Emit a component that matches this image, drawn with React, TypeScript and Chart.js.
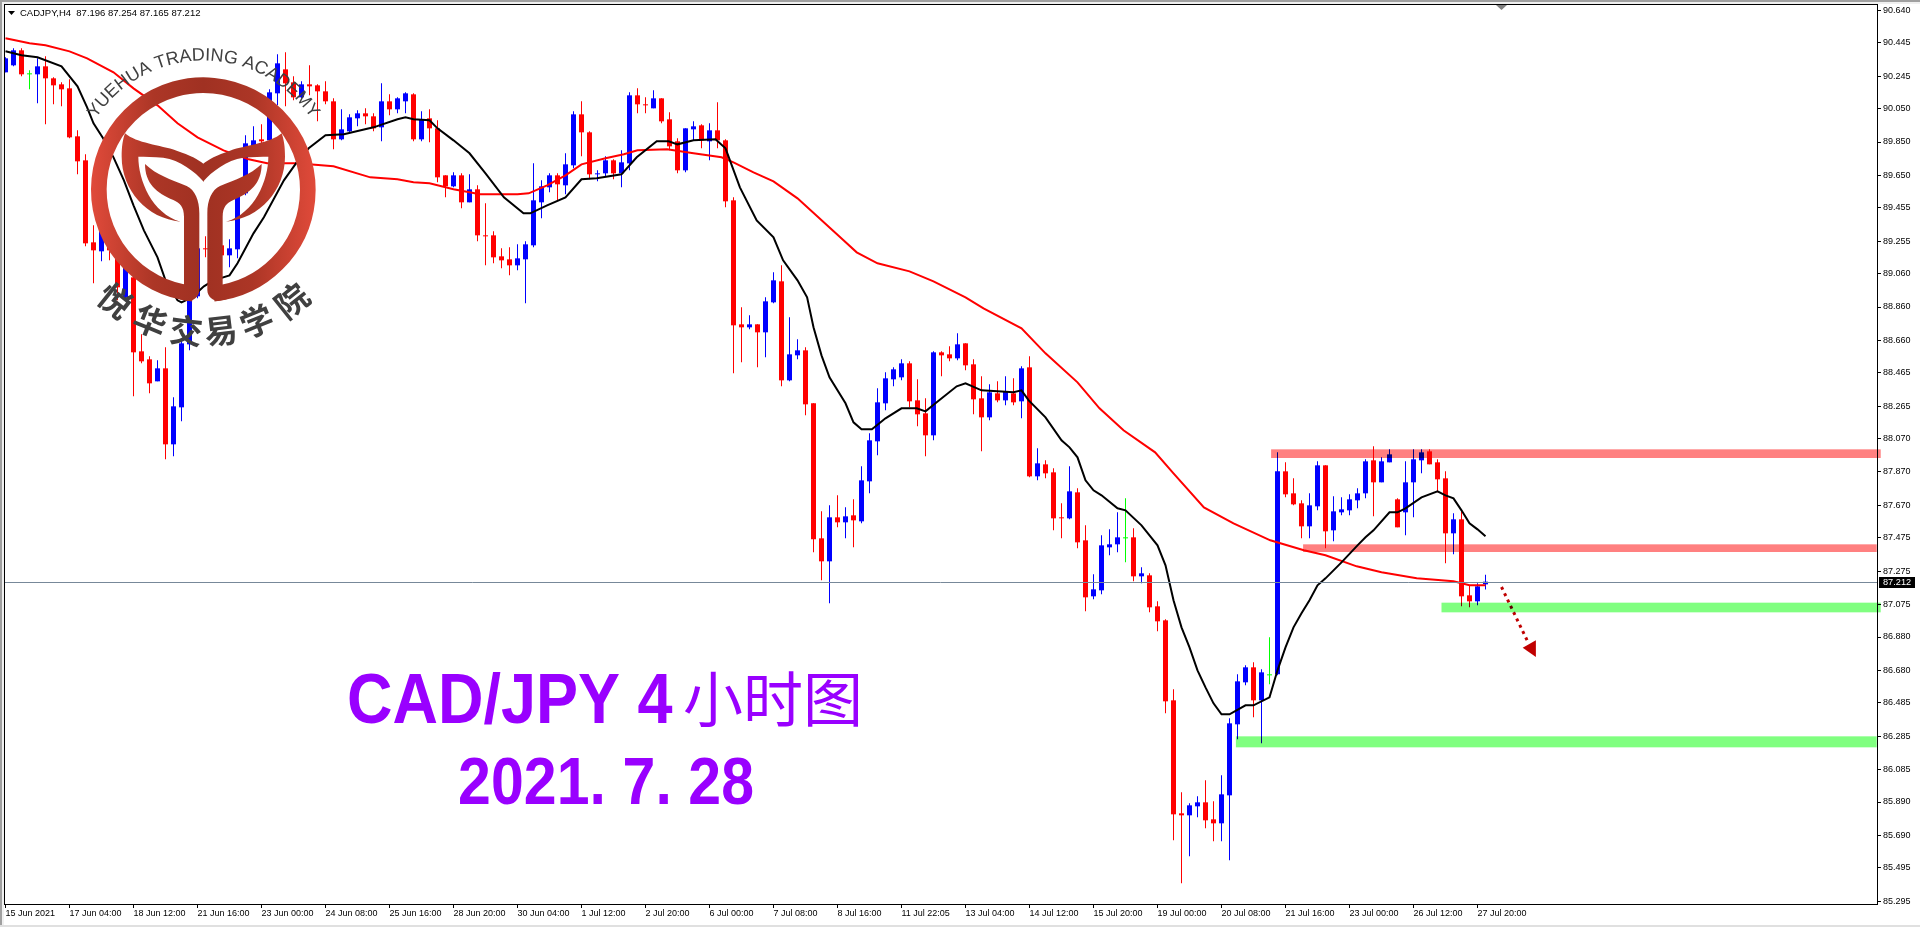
import React, { useEffect, useRef } from "react";
import Chart from "chart.js/auto";

const opens = [90.268,90.31,90.4,90.262,90.256,90.304,90.232,90.196,90.172,89.884,89.74,89.248,89.194,89.344,89.2,88.918,89.038,88.594,88.546,88.414,88.492,88.036,88.258,88.636,88.924,89.212,89.218,89.23,89.17,89.206,89.542,89.8,89.866,89.86,90.142,90.286,90.208,90.118,90.196,90.19,90.154,90.094,89.866,89.914,89.992,90.022,90.004,89.938,90.094,90.046,90.094,90.136,89.866,89.992,89.932,89.65,89.584,89.65,89.488,89.566,89.29,89.29,89.164,89.146,89.11,89.146,89.23,89.488,89.578,89.65,89.59,89.71,90.016,89.908,89.656,89.662,89.74,89.662,89.722,90.13,90.076,90.052,90.112,89.986,89.854,89.68,89.926,89.95,89.854,89.92,89.86,89.5,88.756,88.738,88.756,88.708,88.888,89.014,88.42,88.57,88.6,88.282,87.472,87.334,87.598,87.568,87.61,87.574,87.814,88.054,88.282,88.426,88.438,88.522,88.3,88.222,88.09,88.588,88.576,88.552,88.642,88.516,88.312,88.198,88.342,88.3,88.342,88.294,88.498,87.844,87.916,87.868,87.598,87.592,87.748,87.46,87.124,87.16,87.418,87.436,87.478,87.478,87.244,87.25,87.064,86.98,86.5,85.822,85.81,85.864,85.888,85.786,85.762,85.93,86.356,86.608,86.698,86.5,86.656,86.656,87.874,87.742,87.682,87.544,87.664,87.91,87.52,87.628,87.64,87.7,87.742,87.94,87.808,87.928,87.706,87.628,87.808,87.94,87.994,87.928,87.832,87.502,87.586,87.13,87.094,87.196];
const highs = [90.358,90.412,90.412,90.28,90.352,90.364,90.238,90.208,90.226,89.92,89.776,89.35,89.368,89.368,89.218,89.152,89.08,88.696,88.564,88.54,88.618,88.318,88.66,88.96,89.26,89.284,89.236,89.23,89.266,89.56,89.89,89.944,89.956,90.166,90.376,90.388,90.244,90.214,90.31,90.196,90.214,90.112,90.046,90.016,90.04,90.052,90.022,90.202,90.136,90.118,90.148,90.142,90.034,90.046,89.98,89.65,89.668,89.662,89.656,89.59,89.482,89.314,89.212,89.218,89.236,89.254,89.722,89.62,89.662,89.662,89.782,90.034,90.094,89.914,89.68,89.764,89.746,89.8,90.148,90.172,90.118,90.16,90.112,90.028,89.872,89.932,89.974,89.956,89.962,90.088,89.866,89.518,88.858,88.81,88.756,88.918,89.068,89.11,88.798,88.666,88.618,88.282,87.634,87.67,87.73,87.658,87.706,87.904,88.102,88.372,88.468,88.498,88.546,88.534,88.426,88.312,88.594,88.594,88.624,88.702,88.642,88.546,88.444,88.396,88.414,88.444,88.432,88.504,88.564,88.012,87.94,87.892,87.682,87.904,87.772,87.55,87.256,87.49,87.526,87.628,87.712,87.532,87.298,87.262,87.094,86.986,86.566,85.948,85.882,85.924,86.02,85.894,86.05,86.392,86.656,86.71,86.728,86.686,86.878,87.988,87.928,87.832,87.7,87.742,87.934,87.91,87.724,87.718,87.736,87.772,87.946,88.024,87.958,88.006,87.712,87.934,88.006,88.006,88.006,87.946,87.874,87.622,87.634,87.19,87.202,87.254];
const lows = [90.268,90.304,90.244,90.166,90.082,89.956,90.076,90.064,89.872,89.656,89.224,89.002,89.134,89.14,88.9,88.9,88.324,88.522,88.342,88.414,87.946,87.964,88.174,88.6,88.912,89.158,89.152,89.164,89.098,89.152,89.53,89.788,89.83,89.848,90.07,90.064,90.1,90.112,90.13,89.974,90.076,89.806,89.86,89.908,89.944,89.956,89.914,89.854,90.01,90.022,90.022,89.854,89.854,89.848,89.608,89.518,89.578,89.452,89.488,89.254,89.11,89.122,89.092,89.05,89.08,88.882,89.218,89.392,89.548,89.5,89.536,89.692,89.764,89.626,89.614,89.644,89.626,89.578,89.68,90.022,90.022,90.052,89.962,89.8,89.662,89.668,89.86,89.812,89.74,89.812,89.458,88.462,88.528,88.726,88.498,88.558,88.882,88.384,88.414,88.546,88.21,87.388,87.22,87.082,87.538,87.472,87.418,87.562,87.742,87.97,88.24,88.384,88.42,88.258,88.144,87.964,88.06,88.444,88.534,88.54,88.48,88.216,87.994,88.18,88.288,88.27,88.27,88.192,87.838,87.82,87.832,87.52,87.472,87.586,87.412,87.034,87.106,87.136,87.37,87.388,87.328,87.214,87.202,87.028,86.914,86.422,85.66,85.402,85.564,85.798,85.732,85.654,85.654,85.54,86.266,86.59,86.398,86.242,86.596,86.65,87.718,87.67,87.472,87.472,87.64,87.412,87.454,87.61,87.61,87.652,87.712,87.604,87.808,87.928,87.538,87.49,87.598,87.862,87.916,87.748,87.322,87.376,87.064,87.058,87.07,87.165];
const closes = [90.352,90.4,90.256,90.256,90.304,90.232,90.19,90.166,89.878,89.734,89.242,89.2,89.35,89.2,88.978,89.128,88.588,88.534,88.402,88.492,88.036,88.264,88.642,88.924,89.212,89.206,89.2,89.17,89.212,89.542,89.842,89.86,89.854,90.148,90.322,90.202,90.118,90.196,90.184,90.154,90.094,89.866,89.926,89.998,90.022,90.004,89.932,90.094,90.046,90.112,90.142,89.866,89.986,89.932,89.638,89.584,89.65,89.488,89.566,89.29,89.284,89.158,89.14,89.11,89.152,89.236,89.5,89.584,89.65,89.596,89.716,90.016,89.908,89.656,89.662,89.74,89.662,89.728,90.13,90.076,90.07,90.112,89.974,89.824,89.68,89.932,89.944,89.86,89.92,89.86,89.494,88.75,88.738,88.756,88.708,88.894,89.02,88.42,88.576,88.6,88.276,87.466,87.334,87.598,87.568,87.604,87.58,87.82,88.06,88.288,88.432,88.486,88.522,88.294,88.216,88.09,88.588,88.57,88.552,88.636,88.51,88.306,88.198,88.348,88.3,88.354,88.288,88.492,87.844,87.922,87.862,87.592,87.592,87.754,87.448,87.118,87.166,87.43,87.436,87.478,87.472,87.244,87.262,87.058,86.974,86.494,85.816,85.81,85.87,85.888,85.78,85.762,85.936,86.362,86.614,86.698,86.5,86.668,86.65,87.874,87.736,87.676,87.544,87.67,87.91,87.514,87.634,87.646,87.706,87.742,87.934,87.808,87.934,87.976,87.538,87.808,87.946,87.988,87.916,87.826,87.502,87.586,87.124,87.094,87.184,87.212];
const greenDoji = [3, 140, 158];

const blackMaIdx = [0,2,4,7,9,10.2,11,12.2,13.5,14.8,16,17.3,19,20,21.5,22,23.3,24.8,26,28,29,31,32.3,34.8,36.4,37.9,40,42.3,46,49,50,51,53,54,56,58,60,62.3,64.75,65.6,67.7,70,72,73.9,77,78.9,81.4,82.9,84,86,88.75,90,91.8,93.9,96,97.2,99,100.2,101,102,103,105,106,107,108.3,110,112,113.9,115,116.4,118.9,120,122,126,127,127.9,130,132,133,134,135,136,137,139,140,142,144,145,146,147,148,149,150,151,152,153,155,156,158,159,160,161,162,163,164,165,167,169,170,171,173,174,175,177,179,180,181,182,183,184,185];
const blackMaVal = [90.394,90.37,90.358,90.304,90.184,90.058,89.962,89.872,89.758,89.62,89.47,89.32,89.158,89.02,88.9,88.888,88.918,88.984,89.02,89.05,89.122,89.302,89.398,89.62,89.728,89.812,89.89,89.896,89.938,89.986,89.998,89.986,89.98,89.932,89.86,89.782,89.662,89.518,89.422,89.422,89.47,89.518,89.626,89.632,89.656,89.758,89.854,89.854,89.836,89.86,89.866,89.812,89.578,89.38,89.278,89.14,89.02,88.918,88.738,88.57,88.438,88.282,88.168,88.126,88.126,88.192,88.252,88.252,88.234,88.288,88.384,88.402,88.36,88.348,88.36,88.3,88.198,88.06,88.018,87.958,87.82,87.76,87.73,87.652,87.64,87.55,87.43,87.31,87.1,86.938,86.818,86.68,86.578,86.482,86.416,86.416,86.47,86.47,86.518,86.68,86.818,86.938,87.022,87.1,87.19,87.232,87.328,87.43,87.478,87.52,87.628,87.628,87.652,87.718,87.754,87.73,87.712,87.64,87.562,87.526,87.484];
const redMaIdx = [0,3,5,8,10.2,13.5,16,19,21.5,24,27.25,30.4,32.7,36.4,41,45.6,49,51,53,56,58,59.3,64,65.4,67.7,70,72,75,77.3,79,82.7,86,89.5,91,93.5,96,99,104.75,106.4,109,113,116,120,122.25,127,130,134,136.75,139.75,143.7,146,149.8,153.5,158.1,162.3,165,168.9,172,176.4,181,183,185];
const redMaVal = [90.472,90.442,90.43,90.394,90.352,90.268,90.172,90.07,89.962,89.878,89.8,89.746,89.722,89.722,89.704,89.638,89.626,89.608,89.602,89.566,89.548,89.536,89.536,89.542,89.59,89.65,89.716,89.752,89.776,89.8,89.806,89.782,89.758,89.728,89.668,89.614,89.512,89.26,89.188,89.122,89.074,89.014,88.918,88.852,88.732,88.582,88.408,88.252,88.12,87.988,87.862,87.658,87.562,87.46,87.4,87.37,87.304,87.268,87.232,87.214,87.19,87.19];

const yTickValues = [90.64,90.445,90.245,90.05,89.85,89.65,89.455,89.255,89.06,88.86,88.66,88.465,88.265,88.07,87.87,87.67,87.475,87.275,87.075,86.88,86.68,86.485,86.285,86.085,85.89,85.69,85.495,85.295];
const xTickLabels = ["15 Jun 2021","17 Jun 04:00","18 Jun 12:00","21 Jun 16:00","23 Jun 00:00","24 Jun 08:00","25 Jun 16:00","28 Jun 20:00","30 Jun 04:00","1 Jul 12:00","2 Jul 20:00","6 Jul 00:00","7 Jul 08:00","8 Jul 16:00","11 Jul 22:05","13 Jul 04:00","14 Jul 12:00","15 Jul 20:00","19 Jul 00:00","20 Jul 08:00","21 Jul 16:00","23 Jul 00:00","26 Jul 12:00","27 Jul 20:00"];

// zones: start index, end index, upper price, lower price
const redZones = [[158.2, 234.4, 88.006, 87.954], [162.2, 233.9, 87.436, 87.39]];
const greenZones = [[179.5, 234.4, 87.086, 87.028], [153.8, 233.9, 86.284, 86.218]];
const arrowIdx = [187, 190.3];
const arrowVal = [87.18, 86.85];
const arrowHeadIdx = [191.3, 189.65, 191.3];
const arrowHeadVal = [86.86, 86.816, 86.76];
const lastPrice = 87.212;

const headerText = "CADJPY,H4  87.196 87.254 87.165 87.212";
const titleLatin = "CAD/JPY 4";
const titleCjk = "小时图";
const dateChars = "2021.7.28";
const logoEn = "YUEHUA TRADING ACADEMY";
const logoCn = "悦华交易学院";
const logoCnAngles = [38.5, 22, 7, -7, -22, -38.5];

const SANS = '"Liberation Sans", Arial, sans-serif';

function drawLogo(ctx: CanvasRenderingContext2D) {
  ctx.save();
  ctx.translate(80, 40);
  ctx.scale(1 / 3, 1 / 3);
  const g = ctx.createLinearGradient(33, 0, 707, 0);
  g.addColorStop(0, "#e04a3a");
  g.addColorStop(0.28, "#ac3626");
  g.addColorStop(0.5, "#a03122");
  g.addColorStop(0.72, "#ac3626");
  g.addColorStop(1, "#e04a3a");
  ctx.strokeStyle = g;
  ctx.fillStyle = g;
  ctx.lineWidth = 47;
  ctx.beginPath();
  ctx.arc(370, 449, 313.5, Math.PI / 2 + 0.1, Math.PI / 2 - 0.1 + Math.PI * 2);
  ctx.stroke();
  const half = () => {
    ctx.beginPath();
    ctx.moveTo(135, 280);
    ctx.bezierCurveTo(170, 310, 240, 315, 290, 332);
    ctx.bezierCurveTo(330, 345, 355, 358, 371, 372);
    ctx.lineTo(371, 425);
    ctx.bezierCurveTo(345, 395, 300, 360, 250, 353);
    ctx.bezierCurveTo(220, 350, 195, 350, 175, 350);
    ctx.bezierCurveTo(175, 420, 215, 520, 302, 545);
    ctx.bezierCurveTo(200, 535, 125, 450, 125, 350);
    ctx.bezierCurveTo(125, 320, 128, 300, 135, 280);
    ctx.closePath();
    ctx.fill();
    ctx.beginPath();
    ctx.moveTo(195, 372);
    ctx.bezierCurveTo(230, 405, 270, 418, 320, 438);
    ctx.bezierCurveTo(345, 450, 358, 480, 358, 520);
    ctx.lineTo(358, 750);
    ctx.bezierCurveTo(358, 770, 340, 783, 325, 783);
    ctx.lineTo(300, 778);
    ctx.lineTo(312, 735);
    ctx.lineTo(312, 530);
    ctx.bezierCurveTo(312, 500, 300, 490, 280, 480);
    ctx.bezierCurveTo(230, 460, 195, 430, 195, 372);
    ctx.closePath();
    ctx.fill();
  };
  half();
  ctx.translate(740, 0);
  ctx.scale(-1, 1);
  half();
  ctx.restore();

  const cx = 203.5, cy = 189.5;
  ctx.save();
  ctx.fillStyle = "#404040";
  ctx.font = `18px ${SANS}`;
  ctx.textAlign = "center";
  ctx.textBaseline = "alphabetic";
  const r = 129;
  const widths = [...logoEn].map((c) => ctx.measureText(c).width);
  const total = widths.reduce((a, b) => a + b, 0);
  let acc = -total / 2;
  [...logoEn].forEach((c, i) => {
    const a = (acc + widths[i] / 2) / r;
    acc += widths[i];
    ctx.save();
    ctx.translate(cx + r * Math.sin(a), cy - r * Math.cos(a));
    ctx.rotate(a);
    ctx.fillText(c, 0, 0);
    ctx.restore();
  });
  ctx.font = 'bold 33px "Noto Sans CJK SC"';
  ctx.textBaseline = "middle";
  [...logoCn].forEach((c, i) => {
    const a = (logoCnAngles[i] * Math.PI) / 180;
    ctx.save();
    ctx.translate(cx - 142 * Math.sin(a), cy + 142 * Math.cos(a));
    ctx.rotate(a);
    ctx.fillText(c, 0, 0);
    ctx.restore();
  });
  ctx.restore();
}

const overlay = {
  id: "overlay",
  beforeDraw(chart: any) {
    const { ctx, width, height } = chart;
    ctx.save();
    ctx.fillStyle = "#ffffff";
    ctx.fillRect(0, 0, width, height);
    ctx.fillStyle = "#a0a0a0";
    ctx.fillRect(0, 0, width, 2);
    ctx.fillRect(0, 0, 2, height - 2);
    ctx.fillStyle = "#f0f0f0";
    ctx.fillRect(2, 2, width - 2, 2);
    ctx.fillRect(2, 2, 2, height - 4);
    ctx.fillStyle = "#e0e0e0";
    ctx.fillRect(0, height - 2, width, 2);
    ctx.restore();
  },
  afterDatasetsDraw(chart: any) {
    const { ctx, scales } = chart;
    const xs = scales.x;
    const ys = scales.y;
    ctx.save();
    ctx.globalCompositeOperation = "multiply";
    const band = (z: number[], col: string) => {
      const x0 = xs.getPixelForValue(z[0]);
      const x1 = xs.getPixelForValue(z[1]);
      const y0 = ys.getPixelForValue(z[2]);
      const y1 = ys.getPixelForValue(z[3]);
      ctx.fillStyle = col;
      ctx.fillRect(x0, y0, x1 - x0, y1 - y0);
    };
    redZones.forEach((z) => band(z, "#ff8080"));
    greenZones.forEach((z) => band(z, "#80ff80"));
    ctx.restore();
    ctx.save();
    const hy = Math.ceil(ys.getPixelForValue(lastPrice)) + 0.5;
    ctx.strokeStyle = "#778899";
    ctx.lineWidth = 1;
    ctx.beginPath();
    ctx.moveTo(chart.chartArea.left, hy);
    ctx.lineTo(chart.chartArea.right, hy);
    ctx.stroke();
    ctx.fillStyle = "#c00000";
    ctx.beginPath();
    arrowHeadIdx.forEach((v, i) => {
      const px = xs.getPixelForValue(v);
      const py = ys.getPixelForValue(arrowHeadVal[i]);
      if (i === 0) ctx.moveTo(px, py);
      else ctx.lineTo(px, py);
    });
    ctx.closePath();
    ctx.fill();
    ctx.restore();
  },
  afterDraw(chart: any) {
    const { ctx, chartArea: a, scales } = chart;
    ctx.save();
    ctx.strokeStyle = "#000000";
    ctx.lineWidth = 1;
    ctx.strokeRect(a.left + 0.5, a.top + 0.5, a.right - a.left, a.bottom - a.top);
    // last-price tag
    const py = Math.ceil(scales.y.getPixelForValue(lastPrice));
    ctx.fillStyle = "#000000";
    ctx.fillRect(1879, py - 5, 36, 11);
    ctx.fillStyle = "#ffffff";
    ctx.font = `9.2px ${SANS}`;
    ctx.textBaseline = "middle";
    ctx.textAlign = "left";
    ctx.fillText(lastPrice.toFixed(3), 1883, py + 0.5);
    // header
    ctx.fillStyle = "#000000";
    ctx.beginPath();
    ctx.moveTo(8, 11);
    ctx.lineTo(15, 11);
    ctx.lineTo(11.5, 15);
    ctx.closePath();
    ctx.fill();
    ctx.font = `9.5px ${SANS}`;
    ctx.fillText(headerText, 20, 13);
    // chart-shift marker
    ctx.fillStyle = "#808080";
    ctx.beginPath();
    ctx.moveTo(1496, 5);
    ctx.lineTo(1507, 5);
    ctx.lineTo(1501.5, 10);
    ctx.closePath();
    ctx.fill();
    ctx.restore();

    drawLogo(ctx);

    ctx.save();
    ctx.fillStyle = "#9900ff";
    ctx.textAlign = "left";
    ctx.textBaseline = "alphabetic";
    ctx.save();
    ctx.translate(347, 722.5);
    ctx.scale(1, 1.11);
    ctx.font = `bold 63px ${SANS}`;
    ctx.fillText(titleLatin, 0, 0);
    ctx.restore();
    ctx.font = '60px "Noto Sans CJK SC"';
    ctx.fillText(titleCjk, 683, 722);
    ctx.save();
    ctx.translate(458, 804);
    ctx.scale(1, 1.13);
    ctx.font = `bold 59px ${SANS}`;
    [...dateChars].forEach((c, i) => ctx.fillText(c, i * 32.9, 0));
    ctx.restore();
    ctx.restore();
  },
};

const colorOf = (i: number) =>
  greenDoji.includes(i) ? "#00ff00" : closes[i] > opens[i] ? "#0000ff" : "#ff0000";

const zeroPadding = (axis: any) => {
  axis.paddingTop = 0;
  axis.paddingBottom = 0;
  axis.paddingLeft = 0;
  axis.paddingRight = 0;
};

export default function App() {
  const ref = useRef<HTMLCanvasElement>(null);
  useEffect(() => {
    const candleColors = opens.map((_, i) => colorOf(i));
    const chart = new Chart(ref.current as HTMLCanvasElement, {
      type: "bar",
      data: {
        datasets: [
          {
            type: "bar",
            order: 5,
            grouped: false,
            barThickness: 1,
            inflateAmount: 0,
            borderWidth: 0,
            backgroundColor: candleColors,
            data: opens.map((_, i) => ({ x: i, y: [lows[i], highs[i]] })),
          },
          {
            type: "bar",
            order: 4,
            grouped: false,
            barThickness: 5,
            inflateAmount: 0,
            borderWidth: 0,
            backgroundColor: candleColors,
            data: opens.map((o, i) => ({ x: i, y: [Math.min(o, closes[i]), Math.max(o, closes[i])] })),
          },
          {
            type: "scatter",
            order: 3,
            showLine: true,
            borderColor: "#ff0000",
            borderWidth: 2,
            pointRadius: 0,
            tension: 0,
            data: redMaIdx.map((x, i) => ({ x, y: redMaVal[i] })),
          },
          {
            type: "scatter",
            order: 2,
            showLine: true,
            borderColor: "#000000",
            borderWidth: 2,
            pointRadius: 0,
            tension: 0,
            data: blackMaIdx.map((x, i) => ({ x, y: blackMaVal[i] })),
          },
          {
            type: "scatter",
            order: 1,
            showLine: true,
            borderColor: "#c00000",
            borderWidth: 3,
            borderDash: [3, 4],
            pointRadius: 0,
            tension: 0,
            data: arrowIdx.map((x, i) => ({ x, y: arrowVal[i] })),
          },
        ],
      } as any,
      options: {
        responsive: false,
        animation: false,
        events: [],
        layout: { padding: { left: 4, top: 4, right: 0, bottom: 0 } },
        plugins: { legend: { display: false }, tooltip: { enabled: false }, title: { display: false } },
        scales: {
          x: {
            type: "linear",
            offset: false,
            min: -0.1875,
            max: 233.9375,
            border: { display: false },
            grid: { offset: false, drawOnChartArea: false, drawTicks: true, tickLength: 4, color: "#000000" },
            afterBuildTicks(axis: any) {
              axis.ticks = xTickLabels.map((_, i) => ({ value: i * 8 }));
            },
            afterFit(axis: any) {
              axis.height = 23;
              zeroPadding(axis);
            },
            ticks: {
              autoSkip: false,
              maxRotation: 0,
              minRotation: 0,
              align: "start",
              padding: 0,
              color: "#000000",
              font: { family: SANS, size: 9 },
              callback: (v: any) => xTickLabels[Math.round(v / 8)],
            },
          },
          y: {
            type: "linear",
            position: "right",
            min: 85.278,
            max: 90.678,
            border: { display: false },
            grid: { drawOnChartArea: false, drawTicks: true, tickLength: 4, color: "#000000" },
            afterBuildTicks(axis: any) {
              axis.ticks = yTickValues.map((value) => ({ value }));
            },
            afterFit(axis: any) {
              axis.width = 43;
              zeroPadding(axis);
            },
            ticks: {
              padding: 2,
              color: "#000000",
              font: { family: SANS, size: 9 },
              callback: (v: any) => Number(v).toFixed(3),
            },
          },
        },
      } as any,
      plugins: [overlay],
    });
    return () => chart.destroy();
  }, []);
  return (
    <canvas
      ref={ref}
      width={1920}
      height={927}
      style={{ position: "fixed", left: 0, top: 0, width: 1920, height: 927, display: "block" }}
    />
  );
}
